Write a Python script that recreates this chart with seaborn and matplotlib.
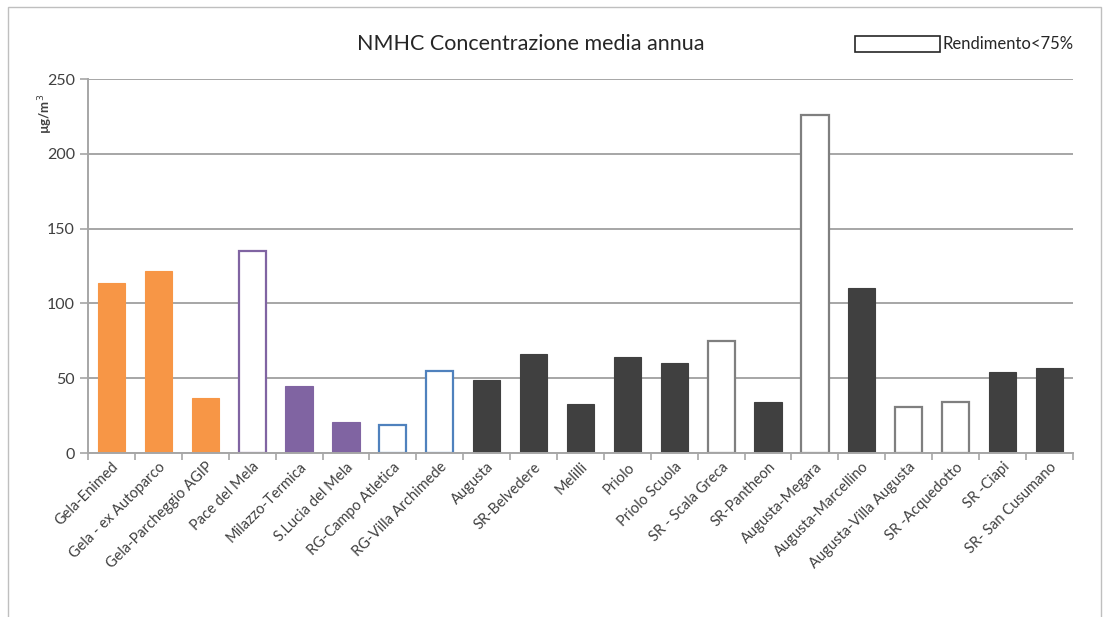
import numpy as np
import pandas as pd
import seaborn as sns
import matplotlib.pyplot as plt
from matplotlib.patches import Rectangle

#%% data
stations = ['Gela-Enimed', 'Gela - ex Autoparco', 'Gela-Parcheggio AGIP', 'Pace del Mela',
            'Milazzo-Termica', 'S.Lucia del Mela', 'RG-Campo Atletica', 'RG-Villa Archimede',
            'Augusta', 'SR-Belvedere', 'Melilli', 'Priolo', 'Priolo Scuola', 'SR - Scala Greca',
            'SR-Pantheon', 'Augusta-Megara', 'Augusta-Marcellino', 'Augusta-Villa Augusta',
            'SR -Acquedotto', 'SR -Ciapi', 'SR- San Cusumano']
nmhc = [114, 122, 37, 135, 45, 21, 19, 55, 49, 66, 33, 64, 60, 75, 34, 226, 110, 31, 34, 54, 57]
# rendimento < 75% -> hollow bar
low_yield = [False, False, False, True, False, False, True, True, False, False, False, False,
             False, True, False, True, False, True, True, False, False]
group = ['Gela'] * 3 + ['Milazzo'] * 3 + ['Ragusa'] * 2 + ['Siracusa'] * 13

group_colors = {'Gela': '#F79646', 'Milazzo': '#8064A2', 'Ragusa': '#4F81BD', 'Siracusa': '#404040'}
hollow_edge = {'Gela': '#F79646', 'Milazzo': '#8064A2', 'Ragusa': '#4F81BD', 'Siracusa': '#7F7F7F'}

df = pd.DataFrame({'Station': stations, 'NMHC': nmhc, 'Low': low_yield, 'Group': group})

#%% plot
sns.set_style('white')
plt.rcParams['font.family'] = ['Lato', 'DejaVu Sans']

fig = plt.figure(figsize=(11.09, 6.17), dpi=100)
ax = fig.add_axes([0.0794, 0.2658, 0.888, 0.606])

pal = [group_colors[g] for g in df['Group']]
sns.barplot(data=df, x='Station', y='NMHC', hue='Station', palette=pal, legend=False,
            width=0.58, saturation=1, ax=ax)

for patch, low, g in zip(ax.patches, df['Low'], df['Group']):
    if low:
        patch.set_facecolor('white')
        patch.set_edgecolor(hollow_edge[g])
        patch.set_linewidth(1.6)
    else:
        patch.set_edgecolor(group_colors[g])
        patch.set_linewidth(0.8)

ax.set_ylim(0, 250)
ax.set_xlim(-0.5, len(stations) - 0.5)
ax.set_yticks(np.arange(0, 251, 50))
ax.yaxis.grid(True, color='#A6A6A6', linewidth=1.4)
ax.set_axisbelow(True)
for s in ['top', 'right']:
    ax.spines[s].set_visible(False)
ax.spines['left'].set_color('#A6A6A6')
ax.spines['left'].set_linewidth(1.4)
ax.spines['bottom'].set_color('#A6A6A6')
ax.spines['bottom'].set_linewidth(1.4)

# category ticks between bars (Excel style)
ax.set_xticks(np.arange(-0.5, len(stations), 1.0), minor=True)
ax.tick_params(axis='x', which='minor', length=5, width=1.2, color='#A6A6A6', direction='out', bottom=True)
ax.tick_params(axis='x', which='major', length=0, pad=5)
ax.tick_params(axis='y', length=6, width=1.2, color='#A6A6A6', direction='out', left=True, labelsize=11.5,
               labelcolor='#404040')
ax.set_xticks(range(len(stations)))
ax.set_xticklabels(stations, rotation=45, ha='right', rotation_mode='anchor', fontsize=10.5, color='#404040')

ax.set_xlabel('')
ax.set_ylabel('')
fig.text(0.041, 0.815, 'µg/m$^3$', rotation=90, ha='center', va='center', fontsize=9.5, fontweight='bold',
         color='#404040')

fig.text(0.479, 0.928, 'NMHC Concentrazione media annua', ha='center', va='center', fontsize=15.5,
         color='#262626')

# legend box
fig.patches.append(Rectangle((0.771, 0.915), 0.077, 0.027, transform=fig.transFigure,
                             facecolor='white', edgecolor='#262626', linewidth=1.2))
fig.text(0.85, 0.929, 'Rendimento<75%', ha='left', va='center', fontsize=12, color='#262626')

# chart area frame
fig.patches.append(Rectangle((0.007, -0.01), 0.986, 0.998, transform=fig.transFigure,
                             facecolor='none', edgecolor='#BFBFBF', linewidth=1.0))

fig.savefig('out.png', dpi=100)
